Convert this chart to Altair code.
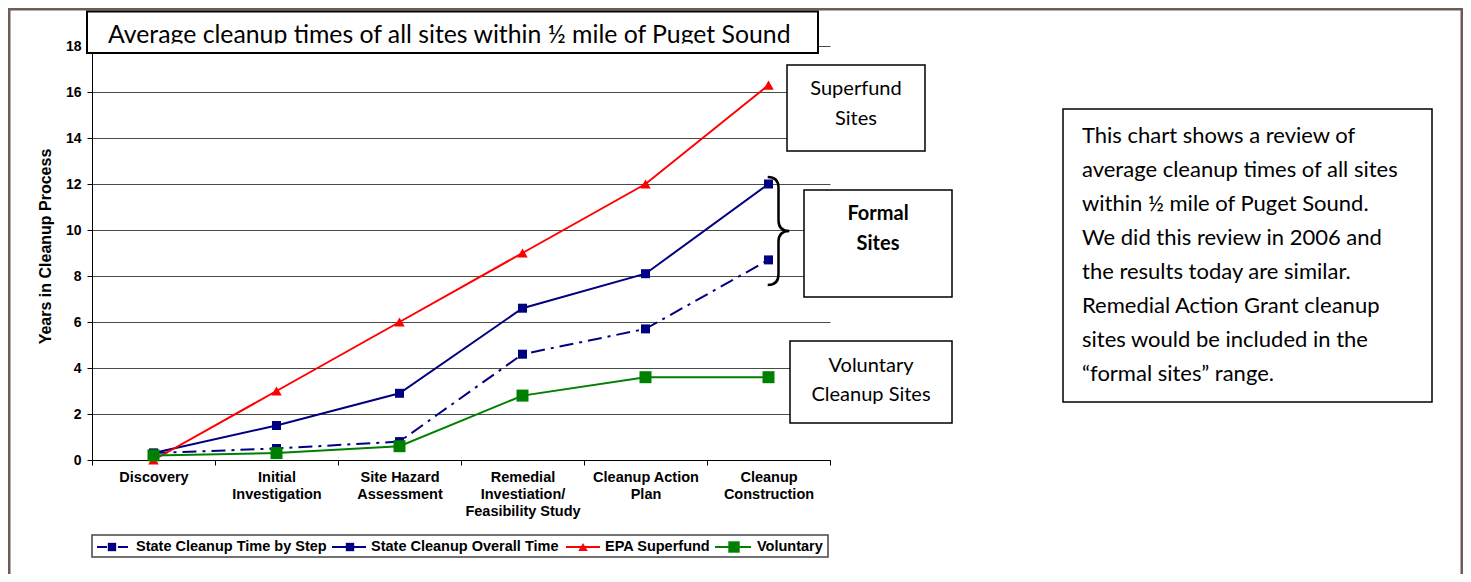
import altair as alt
import pandas as pd

# ---------------- data ----------------
steps = [
    "Discovery",
    "Initial\nInvestigation",
    "Site Hazard\nAssessment",
    "Remedial\nInvestiation/\nFeasibility Study",
    "Cleanup Action\nPlan",
    "Cleanup\nConstruction",
]
series_names = [
    "State Cleanup Time by Step",
    "State Cleanup Overall Time",
    "EPA Superfund",
    "Voluntary",
]
by_step = [0.3, 0.5, 0.8, 4.6, 5.7, 8.7]
overall = [0.3, 1.5, 2.9, 6.6, 8.1, 12.0]
epa = [0.0, 3.0, 6.0, 9.0, 12.0, 16.3]
voluntary = [0.2, 0.3, 0.6, 2.8, 3.6, 3.6]
y_ticks = [0, 2, 4, 6, 8, 10, 12, 14, 16, 18]

title_text = "Average cleanup times of all sites within \u00bd mile of Puget Sound"
note_lines = [
    "This chart shows a review of",
    "average cleanup times of all sites",
    "within \u00bd mile of Puget Sound.",
    "We did this review in 2006 and",
    "the results today are similar.",
    "Remedial Action Grant cleanup",
    "sites would be included in the",
    "\u201cformal sites\u201d range.",
]

# ---------------- layout ----------------
W, H = 738, 414
PAD_L, PAD_T = 84, 38
PAD_R = 1455 - PAD_L - W
PAD_B = 566 - PAD_T - H

AX_FONT = "Liberation Sans"
BOX_FONT = "Lato"

NAVY = "#000080"
RED = "#ff0000"
GREEN = "#008000"
BROWN = "#6e5d57"

x_enc = alt.X(
    "step:N",
    sort=steps,
    bandPosition=0.5,
    scale=alt.Scale(type="band", domain=steps, paddingInner=0, paddingOuter=0),
    axis=alt.Axis(
        title=None,
        labelExpr="split(datum.label, '\\n')",
        labelAngle=0,
        labelFont=AX_FONT,
        labelFontWeight="bold",
        labelFontSize=14.5,
        labelColor="black",
        labelLineHeight=17,
        labelBaseline="top",
        labelPadding=5,
        labelLimit=300,
        tickBand="extent",
        tickSize=5,
        tickColor="black",
        domainColor="black",
        grid=False,
    ),
)
y_enc = alt.Y(
    "value:Q",
    scale=alt.Scale(domain=[0, 18], nice=False, zero=True),
    axis=alt.Axis(
        values=y_ticks,
        format="d",
        title="Years in Cleanup Process",
        titleFont=AX_FONT,
        titleFontWeight="bold",
        titleFontSize=16,
        titleColor="black",
        titleAngle=270,
        titleX=-47,
        titleY=200,
        titleAlign="center",
        titleBaseline="middle",
        labelFont=AX_FONT,
        labelFontWeight="bold",
        labelFontSize=14,
        labelColor="black",
        labelPadding=6,
        tickSize=5,
        tickColor="black",
        domainColor="black",
        grid=True,
        gridColor="#4a4a4a",
        gridWidth=1,
    ),
)


def series_layer(vals, color, shape, size, dash=None):
    df = pd.DataFrame({"step": steps, "value": vals})
    base = alt.Chart(df)
    line_kw = dict(color=color, strokeWidth=2)
    if dash is not None:
        line_kw["strokeDash"] = dash
    line = base.mark_line(**line_kw).encode(x=x_enc, y=y_enc)
    pts = base.mark_point(shape=shape, size=size, color=color, filled=True, opacity=1).encode(x=x_enc, y=y_enc)
    return [line, pts]


one = pd.DataFrame({"k": [0]})


def box(x1, y1, x2, y2, stroke="black", sw=1.5, fill="white", fill_op=1.0):
    return alt.Chart(one).mark_rect(fill=fill, fillOpacity=fill_op, stroke=stroke, strokeWidth=sw).encode(
        x=alt.value(x1), x2=alt.value(x2), y=alt.value(y1), y2=alt.value(y2)
    )


def label(text, x, y, size, weight="normal", align="center", font=BOX_FONT, baseline="middle"):
    return alt.Chart(one).mark_text(
        text=text, fontSize=size, fontWeight=weight, align=align, baseline=baseline, font=font, color="black"
    ).encode(x=alt.value(x), y=alt.value(y))


DASHDOT = [14, 6, 3, 6]
layers = []
layers += series_layer(by_step, NAVY, "square", 81, DASHDOT)
layers += series_layer(overall, NAVY, "square", 81)
layers += series_layer(epa, RED, "triangle-up", 110)
layers += series_layer(voluntary, GREEN, "square", 144)

# outer brown frame
layers.append(box(-82.75, -36.75, 1369.75, 600, stroke=BROWN, sw=2.5, fill="white", fill_op=0))

# title box (text clipped at its baseline like the original)
layers.append(box(-5, -34.5, 726, 7, sw=2))
layers.append(label(title_text, 16, -3, 24.8, align="left", baseline="alphabetic"))
layers.append(box(-3.5, -2.5, 724.5, 6, stroke="white", sw=0))

# annotation boxes
layers.append(box(695, 19, 833, 105))
layers.append(label("Superfund", 764, 43, 20))
layers.append(label("Sites", 764, 73, 20))

layers.append(box(712, 144, 860, 251))
layers.append(label("Formal", 786, 168, 20, weight="bold"))
layers.append(label("Sites", 786, 198, 20, weight="bold"))

layers.append(box(698, 295, 860, 377))
layers.append(label("Voluntary", 779, 320, 20))
layers.append(label("Cleanup Sites", 779, 349, 20))

# brace
BRACE = "M-0.2,-1 Q0,-1 0,-0.8 L0,-0.2 Q0,0 0.2,0 Q0,0 0,0.2 L0,0.8 Q0,1 -0.2,1"
layers.append(
    alt.Chart(one).mark_point(shape=BRACE, size=108 * 108, filled=False, color="black", strokeWidth=2.5, opacity=1).encode(
        x=alt.value(686.5), y=alt.value(185)
    )
)

# right note box
layers.append(box(971, 63, 1340, 356))
for i, ln in enumerate(note_lines):
    layers.append(label(ln, 990, 90 + 34.0 * i, 22, align="left"))

# legend
layers.append(box(0, 489, 736, 511, stroke="#444444", sw=1.5))
leg_y = 501
leg_items = [
    (series_names[0], NAVY, "square", 70, DASHDOT, 5, 37, 20, 44),
    (series_names[1], NAVY, "square", 70, None, 240, 274, 258, 279),
    (series_names[2], RED, "triangle-up", 90, None, 474, 508, 491, 513),
    (series_names[3], GREEN, "square", 130, None, 623, 659, 642, 665),
]
for name, col, shp, sz, dash, xa, xb, xm, xt in leg_items:
    rk = dict(color=col, strokeWidth=2)
    if dash is not None:
        rk["strokeDash"] = [10, 4, 3, 4]
    layers.append(alt.Chart(one).mark_rule(**rk).encode(x=alt.value(xa), x2=alt.value(xb), y=alt.value(leg_y)))
    layers.append(
        alt.Chart(one).mark_point(shape=shp, size=sz, color=col, filled=True, opacity=1).encode(
            x=alt.value(xm), y=alt.value(leg_y)
        )
    )
    layers.append(label(name, xt, leg_y, 14.5, weight="bold", align="left", font=AX_FONT))

chart = (
    alt.layer(*layers)
    .properties(
        width=W,
        height=H,
        padding={"left": PAD_L, "top": PAD_T, "right": PAD_R, "bottom": PAD_B},
        autosize=alt.AutoSizeParams(type="none"),
        background="white",
    )
    .configure_view(stroke=None)
)

chart.save("out.html", embed_options={"renderer": "svg", "actions": False})
